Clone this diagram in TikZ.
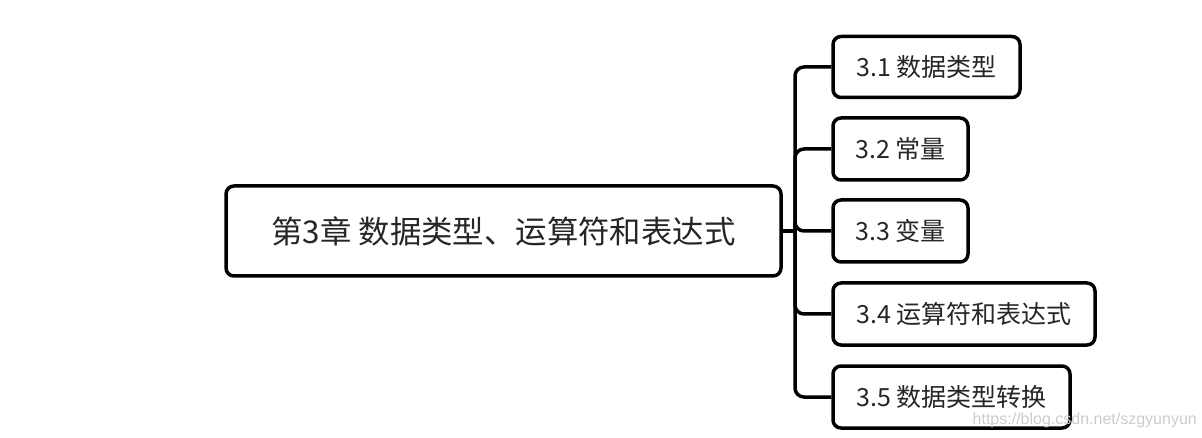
\documentclass[tikz,border=0pt]{standalone}
\usepackage{fontspec}
\setmainfont{Liberation Sans}
\newfontfamily\cjk{Noto Sans CJK SC}
\begin{document}
\begin{tikzpicture}[x=1pt,y=-1pt,
  box/.style={draw=black,line width=3.5pt,rounded corners=8pt,fill=white,
    inner sep=0pt,text=black!85,font=\cjk\fontsize{25}{28}\selectfont},
  conn/.style={draw=black,line width=3.5pt,rounded corners=9pt}]
\useasboundingbox[fill=white] (0,0) rectangle (1202,438);
\node[box,minimum width=555pt,minimum height=90pt,font=\cjk\fontsize{31.4}{35}\selectfont] (main) at (503.5,231) {第3章 数据类型、运算符和表达式};
\node[box,minimum width=187pt,minimum height=61pt] (c1) at (926.5,67) {3.1 数据类型};
\node[box,minimum width=135pt,minimum height=62pt] (c2) at (900.5,149) {3.2 常量};
\node[box,minimum width=135pt,minimum height=62pt] (c3) at (900.5,231) {3.3 变量};
\node[box,minimum width=262pt,minimum height=62pt] (c4) at (964,314) {3.4 运算符和表达式};
\node[box,minimum width=237pt,minimum height=62pt] (c5) at (951.5,397) {3.5 数据类型转换};
\coordinate (trunk) at (795,231);
\draw[conn] (main.east) -- (trunk);
\foreach \c in {c1,c2,c3,c4,c5}{
  \draw[conn] (trunk) |- (\c.west);
}
\node[text=black!20,font=\fontsize{16}{19}\selectfont,anchor=east,inner sep=0pt] (wm) at (1197,420) {https://blog.csdn.net/szgyunyun};
\end{tikzpicture}
\end{document}
